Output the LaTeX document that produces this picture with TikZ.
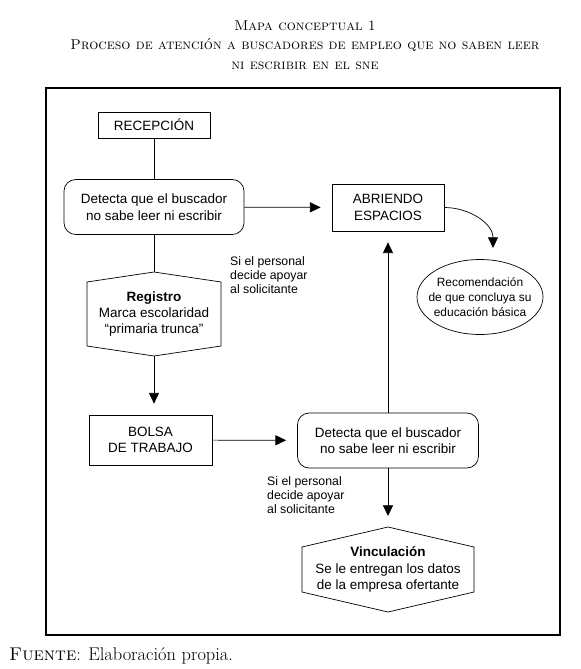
\documentclass[tikz,border=0pt]{standalone}
\usepackage{fontspec}
\setsansfont{Liberation Sans}
\usetikzlibrary{arrows.meta}
\usetikzlibrary{calc}
\usetikzlibrary{shapes.geometric}
\tikzset{
	caja/.style={draw, line width=0.6pt, align=center, inner sep=0pt, font=\sffamily\fontsize{11.5}{14}\selectfont},
	redonda/.style={caja, rounded corners=3.5mm},
	nota/.style={align=left, inner sep=0pt, font=\sffamily\fontsize{10.5}{12.2}\selectfont},
	linea/.style={line width=0.6pt},
	flecha/.style={linea, -{Triangle[length=3.2mm,width=3mm]}, shorten >=3.3mm}
}
\newcommand{\hexa}[7] % name, x, y, half width, half height, side drop, text
{
	% text
	\node[caja, draw=none] (#1) at (#2,#3) {#7};
	% outline
	\draw[linea] (#2,#3-#5) -- (#2+#4,#3-#5+#6) -- (#2+#4,#3+#5-#6) -- (#2,#3+#5)
		-- (#2-#4,#3+#5-#6) -- (#2-#4,#3-#5+#6) -- cycle;
	% top and bottom points
	\coordinate (#1-arriba) at (#2,#3-#5);
	\coordinate (#1-abajo) at (#2,#3+#5);
}
\begin{document}
\begin{tikzpicture}[x=0.03cm, y=-0.03cm]
	% 1 unit = 1 px of the page, y going down
	\useasboundingbox (0,0) rectangle (580,669);
	
	% title
	\node[align=center, inner sep=0pt, font=\fontsize{12.2}{16.8}\selectfont] (titulo) at (305,45)
		{\textsc{Mapa conceptual 1}\\
		\textsc{Proceso de atención a buscadores de empleo que no saben leer}\\
		\textsc{ni escribir en el sne}};
	
	% frame
	\draw[line width=0.9pt] (46,88) rectangle (560,635);
	
	% left column
	\node[caja, minimum width=3.36cm, minimum height=0.78cm] (recepcion) at (154,125) {RECEPCIÓN};
	\node[redonda, minimum width=5.4cm, minimum height=1.65cm] (detecta) at (154,207)
		{Detecta que el buscador\\no sabe leer ni escribir};
	\hexa{registro}{154}{314}{67}{42}{10}{\textbf{Registro}\\Marca escolaridad\\“primaria trunca”}
	\node[caja, minimum width=3.69cm, minimum height=1.5cm] (bolsa) at (150.5,440) {BOLSA\\DE TRABAJO};
	
	% right column
	\node[caja, minimum width=3.36cm, minimum height=1.41cm] (abriendo) at (388,207.5) {ABRIENDO\\ESPACIOS};
	\node[align=center, inner sep=0pt, font=\sffamily\fontsize{10.2}{12.6}\selectfont] (recomienda) at (480,297)
		{Recomendación\\de que concluya su\\educación básica};
	\draw[linea] (recomienda.center) ellipse [x radius=1.89cm, y radius=1.125cm];
	\node[redonda, minimum width=5.43cm, minimum height=1.65cm] (detecta2) at (388,440.5)
		{Detecta que el buscador\\no sabe leer ni escribir};
	\hexa{vinculacion}{388}{569.5}{86}{42.5}{20}{\textbf{Vinculación}\\Se le entregan los datos\\de la empresa ofertante}
	
	% notes
	\node[nota, anchor=north west] (nota1) at (230,256) {Si el personal\\decide apoyar\\al solicitante};
	\node[nota, anchor=north west] (nota2) at (267,476) {Si el personal\\decide apoyar\\al solicitante};
	
	% connectors
	\draw[linea] (recepcion) -- (detecta);
	\draw[flecha] (detecta) -- (abriendo);
	\coordinate (punta) at ($(recomienda.center)+(13,-49)$);
	\draw[flecha, shorten >=0pt] (abriendo.east) to[out=0, in=90] (punta);
	\draw[linea] (detecta) -- (registro-arriba);
	\draw[flecha] (registro-abajo) -- (registro-abajo |- bolsa.north);
	\draw[flecha] (bolsa) -- (detecta2);
	\draw[flecha] (detecta2) -- (abriendo);
	\draw[flecha] (detecta2) -- (vinculacion-arriba);
	
	% source
	\node[anchor=west, inner sep=0pt, font=\fontsize{15.7}{18}\selectfont] (fuente) at (9,656)
		{\textsc{Fuente}: Elaboración propia.};
\end{tikzpicture}
\end{document}
